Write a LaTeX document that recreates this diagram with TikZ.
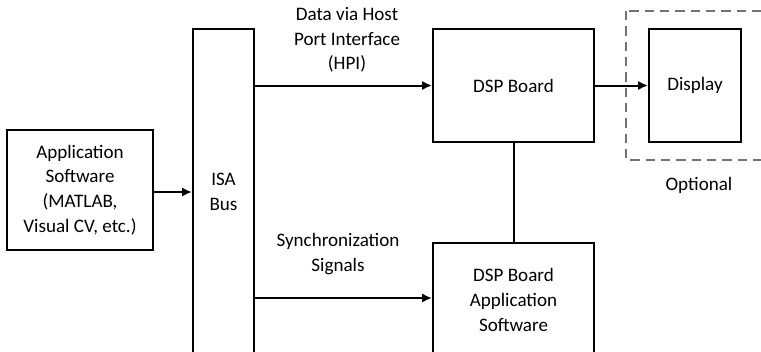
\documentclass[tikz,border=0pt]{standalone}
\usepackage{fontspec}
\setmainfont{Carlito}
\usetikzlibrary{arrows.meta}
\begin{document}
\begin{tikzpicture}[x=0.75pt,y=-0.75pt,
  box/.style={draw=black,line width=1.5pt,rectangle,inner sep=0pt,align=center,font=\fontsize{14.3}{18.5}\selectfont},
  lbl/.style={align=center,font=\fontsize{14.3}{18.5}\selectfont,inner sep=0pt},
  conn/.style={draw=black,line width=1.5pt},
  arr/.style={conn,-{Latex[length=7.5pt,width=7pt]}}]
\useasboundingbox[fill=white] (0,0) rectangle (761,351);
\clip (0,0) rectangle (761,351);
\node[box,minimum width=146*0.75pt,minimum height=120*0.75pt] (app) at (80,190) {Application\\Software\\(MATLAB,\\Visual CV, etc.)};
\node[box,minimum width=61*0.75pt,minimum height=326*0.75pt] (isa) at (223.5,192) {ISA\\Bus};
\node[box,minimum width=161*0.75pt,minimum height=113*0.75pt] (dsp) at (513.5,85.5) {DSP Board};
\node[box,minimum width=92*0.75pt,minimum height=113*0.75pt] (disp) at (695,85.5) {Display};
\node[box,minimum width=161*0.75pt,minimum height=114*0.75pt] (dspapp) at (513.5,300) {DSP Board\\Application\\Software};
\draw[draw=black!55,line width=1.2pt,dash pattern=on 7pt off 4.5pt] (626,11) rectangle (790,160);
\node[lbl] (opt) at (699,185) {Optional};
\node[lbl] (hpi) at (347,40) {Data via Host\\Port Interface\\(HPI)};
\node[lbl] (sync) at (338,254) {Synchronization\\Signals};
\draw[arr] (app.east |- isa.west) -- (isa.west);
\draw[arr] (isa.east |- dsp.west) -- (dsp.west);
\draw[arr] (dsp.east) -- (disp.west);
\draw[arr] (isa.east |- 0,298) coordinate (s) -- (dspapp.west |- s);
\draw[conn] (dsp.south) -- (dspapp.north);
\end{tikzpicture}
\end{document}
